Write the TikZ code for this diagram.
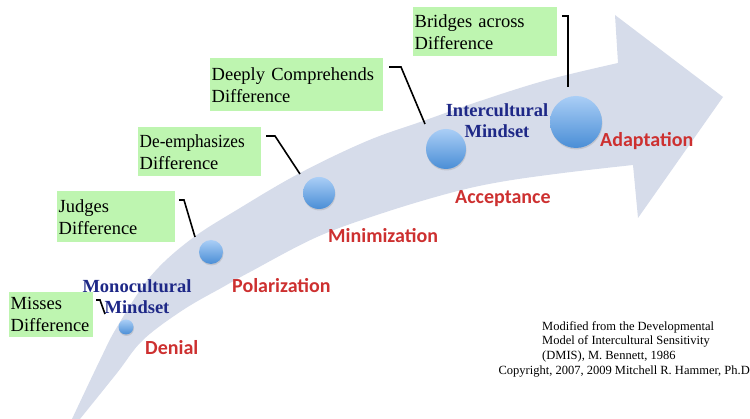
\documentclass[tikz,border=0pt]{standalone}
\usepackage{fontspec}
\setmainfont{Liberation Serif}
\newfontfamily\calibri{Carlito}
\usetikzlibrary{shadows}
\definecolor{arrowfill}{RGB}{214,220,234}
\definecolor{boxgreen}{RGB}{190,245,176}
\definecolor{stagered}{RGB}{205,48,48}
\definecolor{mindblue}{RGB}{30,40,135}
\definecolor{dottop}{RGB}{170,206,246}
\definecolor{dotbot}{RGB}{74,142,214}
\begin{document}
\begin{tikzpicture}[x=1pt,y=-1pt,
 gbox/.style={fill=boxgreen, anchor=north west, inner xsep=1.5pt, inner ysep=0pt, align=left, font=\fontsize{18.5}{22}\selectfont},
 dot/.style={circle, inner sep=0pt, top color=dottop, bottom color=dotbot, drop shadow={shadow xshift=0.5pt, shadow yshift=-1.5pt, opacity=0.25}},
 stage/.style={font=\calibri\bfseries\fontsize{20}{24}\selectfont, text=stagered, anchor=west, inner sep=0pt},
 mind/.style={font=\bfseries\fontsize{18.5}{21}\selectfont, text=mindblue, align=center, inner sep=0pt},
 leader/.style={draw=black, line width=1.6pt},
 credit/.style={font=\fontsize{12.5}{14.5}\selectfont, align=left, inner sep=0pt},
]
\useasboundingbox (0,0) rectangle (750,419);

% big curved arrow
\fill[arrowfill] (72,419)
  -- plot[smooth, tension=0.6] coordinates {(72,419) (100,360) (117,327) (150,277) (190,240) (240,208) (300,173) (367,141) (423,121) (480,101) (547,80) (618,63)}
  -- (615,15) -- (723,97) -- (638,218) -- (633,165)
  -- plot[smooth, tension=0.6] coordinates {(633,165) (563,173) (500,182) (450,193) (383,213) (317,237) (250,272) (223,287) (183,310) (143,340) (117,373) (80,419)}
  -- cycle;

% dots
\node[dot, minimum size=15pt] (d1) at (126,327) {};
\node[dot, minimum size=24pt] (d2) at (211,252) {};
\node[dot, minimum size=32pt] (d3) at (319,193) {};
\node[dot, minimum size=40pt] (d4) at (446,149) {};
\node[dot, minimum size=52pt] (d5) at (576,122) {};

% green boxes
\node[gbox, minimum width=84pt, minimum height=45pt, text width=81pt] (b1) at (9,292) {Misses\\Difference};
\node[gbox, minimum width=118pt, minimum height=51pt, text width=115pt] (b2) at (57,191) {Judges\\Difference};
\node[gbox, minimum width=123pt, minimum height=49pt, text width=120pt] (b3) at (138,127) {\scalebox{0.93}[1]{De-emphasizes}\\Difference};
\node[gbox, minimum width=173pt, minimum height=53pt, text width=170pt] (b4) at (210,58) {Deeply Comprehends\\Difference};
\node[gbox, minimum width=144pt, minimum height=49pt, text width=141pt] (b5) at (413,7) {Bridges across\\Difference};

% leader lines
\coordinate (l1a) at (96,300); \coordinate (l1b) at (100,300); \coordinate (l1c) at (105,314);
\coordinate (l2a) at (179,200); \coordinate (l2b) at (184,200); \coordinate (l2c) at (195,237);
\coordinate (l3a) at (266,136); \coordinate (l3b) at (275,136); \coordinate (l3c) at (300,174);
\coordinate (l4a) at (389,67); \coordinate (l4b) at (401,67); \coordinate (l4c) at (425,124);
\coordinate (l5a) at (562,16); \coordinate (l5b) at (568,16); \coordinate (l5c) at (568,87);
\draw[leader] (l1a) -- (l1b) -- (l1c);
\draw[leader] (l2a) -- (l2b) -- (l2c);
\draw[leader] (l3a) -- (l3b) -- (l3c);
\draw[leader] (l4a) -- (l4b) -- (l4c);
\draw[leader] (l5a) -- (l5b) -- (l5c);

% stage labels
\node[stage] (s1) at (145,348) {Denial};
\node[stage] (s2) at (232,286) {Polarization};
\node[stage] (s3) at (328,236) {Minimization};
\node[stage] (s4) at (455,199) {Acceptance};
\node[stage] (s5) at (600,141) {Adaptation};

% mindset labels
\node[mind] (m1) at (137,297) {Monocultural\\Mindset};
\node[mind] (m2) at (497,121) {Intercultural\\Mindset};

% credit
\node[credit, anchor=north west] (c1) at (542,321) {Modified from the Developmental\\Model of Intercultural Sensitivity\\(DMIS), M. Bennett, 1986};
\node[credit, anchor=north east] (c2) at (750,366) {Copyright, 2007, 2009 Mitchell R. Hammer, Ph.D};
\end{tikzpicture}
\end{document}
